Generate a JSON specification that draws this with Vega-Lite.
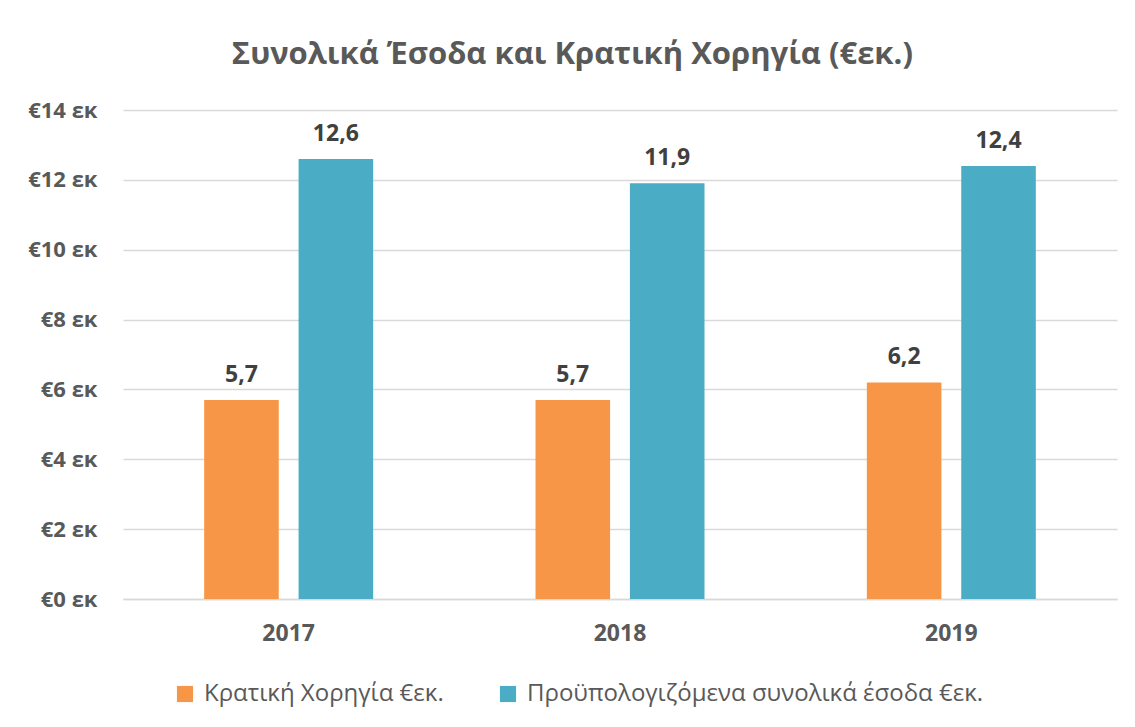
{
  "$schema": "https://vega.github.io/schema/vega-lite/v6.json",
  "width": 994,
  "height": 489,
  "autosize": {"type": "none"},
  "padding": {"left": 123, "top": 110, "right": 18, "bottom": 128},
  "background": "white",
  "title": {
    "text": "Συνολικά Έσοδα και Κρατική Χορηγία (€εκ.)",
    "fontSize": 31,
    "fontWeight": "bold",
    "color": "#595959",
    "font": "Open Sans",
    "anchor": "middle",
    "frame": "bounds",
    "offset": 28
  },
  "data": {
    "values": [
      {"year": "2017", "series": "Κρατική Χορηγία €εκ.", "value": 5.7},
      {"year": "2017", "series": "Προϋπολογιζόμενα συνολικά έσοδα €εκ.", "value": 12.6},
      {"year": "2018", "series": "Κρατική Χορηγία €εκ.", "value": 5.7},
      {"year": "2018", "series": "Προϋπολογιζόμενα συνολικά έσοδα €εκ.", "value": 11.9},
      {"year": "2019", "series": "Κρατική Χορηγία €εκ.", "value": 6.2},
      {"year": "2019", "series": "Προϋπολογιζόμενα συνολικά έσοδα €εκ.", "value": 12.4}
    ]
  },
  "encoding": {
    "x": {
      "field": "year",
      "type": "nominal",
      "title": null,
      "scale": {"paddingInner": 0.49, "paddingOuter": 0.245},
      "axis": {
        "labelAngle": 0,
        "labelFontSize": 23,
        "labelFontWeight": "bold",
        "labelColor": "#595959",
        "labelFont": "Open Sans",
        "labelPadding": 23,
        "ticks": false,
        "domainColor": "#d9d9d9",
        "domainWidth": 1.5
      }
    },
    "xOffset": {
      "field": "series",
      "type": "nominal",
      "scale": {"paddingInner": 0.21, "paddingOuter": 0}
    },
    "y": {
      "field": "value",
      "type": "quantitative",
      "title": null,
      "scale": {"domain": [0, 14]},
      "axis": {
        "values": [0, 2, 4, 6, 8, 10, 12, 14],
        "labelExpr": "'€' + datum.value + ' εκ'",
        "labelFontSize": 22,
        "labelFontWeight": "bold",
        "labelColor": "#595959",
        "labelFont": "Open Sans",
        "labelPadding": 26,
        "ticks": false,
        "domain": false,
        "gridColor": "#d9d9d9",
        "gridWidth": 1.5
      }
    }
  },
  "layer": [
    {
      "mark": {"type": "bar"},
      "encoding": {
        "color": {
          "field": "series",
          "type": "nominal",
          "title": null,
          "scale": {"range": ["#F79646", "#4BACC6"]},
          "legend": {
            "orient": "none",
            "legendX": 50,
            "legendY": 572,
            "direction": "horizontal",
            "symbolType": "square",
            "symbolSize": 260,
            "symbolStrokeWidth": 0,
            "symbolOffset": 0,
            "labelOffset": 7,
            "labelFontSize": 24,
            "labelLimit": 0,
            "labelColor": "#595959",
            "labelFont": "Open Sans",
            "columnPadding": 52
          }
        }
      }
    },
    {
      "mark": {
        "type": "text",
        "baseline": "alphabetic",
        "dy": -18,
        "fontSize": 23,
        "fontWeight": "bold",
        "color": "#404040",
        "font": "Open Sans"
      },
      "encoding": {
        "text": {"field": "value", "type": "quantitative", "format": ".1f"}
      }
    }
  ],
  "config": {
    "view": {"stroke": null},
    "locale": {
      "number": {"decimal": ",", "thousands": ".", "grouping": [3], "currency": ["€", ""]}
    }
  }
}
